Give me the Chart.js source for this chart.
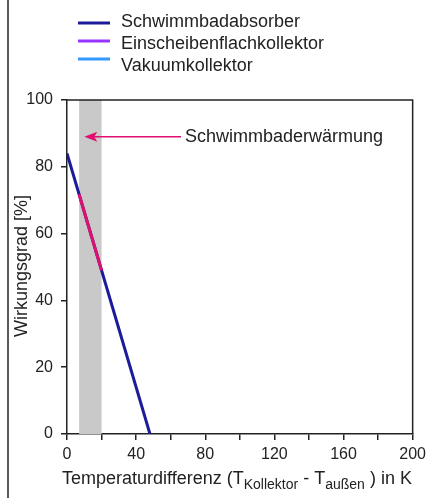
<!DOCTYPE html>
<html>
<head>
<meta charset="utf-8">
<script src="https://cdn.jsdelivr.net/npm/chart.js@4"></script>
<style>
  html, body { margin: 0; padding: 0; background: #fff; }
  #wrap { width: 431px; height: 498px; position: relative; }
</style>
</head>
<body>
<div id="wrap"><canvas id="chart" width="431" height="498"></canvas></div>
<script>
// Data
const seriesNames = ["Schwimmbadabsorber", "Einscheibenflachkollektor", "Vakuumkollektor"];
const seriesColors = ["#1c1c9a", "#9933ff", "#3399ff"];
const absorberX = [0, 48];
const absorberY = [84, 0];
const highlightX = [7, 20];
const highlightY = [71.75, 49];
const flatX = [];
const flatY = [];
const vacuumX = [];
const vacuumY = [];
const bandRange = [7, 20];          // Schwimmbaderwärmung range (K)
const arrowFrom = [66, 89];         // arrow tail (x, y)
const arrowTo = [10, 89];           // arrow head (x, y)
const xTicks = [0, 20, 40, 60, 80, 100, 120, 140, 160, 180, 200];
const yTicks = [0, 20, 40, 60, 80, 100];

const FONT = "'Liberation Sans', Arial, sans-serif";
const pink = "#e0106e";

function toPoints(xs, ys) {
  return xs.map((x, i) => ({ x: x, y: ys[i] }));
}

// Grey band, frame, arrow, legend and axis titles
const decorations = {
  id: "decorations",
  beforeDatasetsDraw(chart) {
    const { ctx, chartArea, scales } = chart;
    const x0 = scales.x.getPixelForValue(bandRange[0]);
    const x1 = scales.x.getPixelForValue(bandRange[1]);
    ctx.save();
    ctx.fillStyle = "#c9c9c9";
    ctx.fillRect(x0, chartArea.top, x1 - x0, chartArea.bottom - chartArea.top);
    ctx.restore();
  },
  afterDraw(chart) {
    const { ctx, chartArea, scales } = chart;
    ctx.save();

    // top and right frame
    ctx.strokeStyle = "#222";
    ctx.lineWidth = 1.5;
    ctx.beginPath();
    ctx.moveTo(chartArea.left, chartArea.top);
    ctx.lineTo(chartArea.right, chartArea.top);
    ctx.lineTo(chartArea.right, chartArea.bottom);
    ctx.stroke();

    // outer left border line
    ctx.beginPath();
    ctx.moveTo(8, 0);
    ctx.lineTo(8, 498);
    ctx.stroke();

    // arrow
    const ax0 = scales.x.getPixelForValue(arrowFrom[0]);
    const ay = scales.y.getPixelForValue(arrowFrom[1]);
    const ax1 = scales.x.getPixelForValue(arrowTo[0]);
    ctx.strokeStyle = pink;
    ctx.fillStyle = pink;
    ctx.lineWidth = 1.5;
    ctx.beginPath();
    ctx.moveTo(ax0, ay);
    ctx.lineTo(ax1 + 6, ay);
    ctx.stroke();
    ctx.beginPath();
    ctx.moveTo(ax1, ay);
    ctx.lineTo(ax1 + 13, ay - 5);
    ctx.lineTo(ax1 + 10, ay);
    ctx.lineTo(ax1 + 13, ay + 5);
    ctx.closePath();
    ctx.fill();

    ctx.fillStyle = "#222";
    ctx.font = "18px " + FONT;
    ctx.textBaseline = "middle";
    ctx.textAlign = "left";
    ctx.fillText("Schwimmbaderwärmung", ax0 + 4, ay);

    // legend
    seriesNames.forEach((name, i) => {
      const ly = 23 + i * 18;
      ctx.strokeStyle = seriesColors[i];
      ctx.lineWidth = 3;
      ctx.beginPath();
      ctx.moveTo(78, ly);
      ctx.lineTo(110, ly);
      ctx.stroke();
      ctx.fillStyle = "#222";
      ctx.fillText(name, 121, 22 + i * 22);
    });

    // y axis title
    ctx.save();
    ctx.translate(22, 266);
    ctx.rotate(-Math.PI / 2);
    ctx.textAlign = "center";
    ctx.fillText("Wirkungsgrad [%]", 0, 0);
    ctx.restore();

    // x axis title with subscripts
    const parts = [
      ["Temperaturdifferenz (T", false],
      ["Kollektor", true],
      [" - T", false],
      ["außen", true],
      [" ) in K", false]
    ];
    let tx = 62;
    const ty = 479;
    parts.forEach(([text, sub]) => {
      ctx.font = (sub ? "14px " : "18px ") + FONT;
      ctx.fillText(text, tx, sub ? ty + 6 : ty);
      tx += ctx.measureText(text).width;
    });

    ctx.restore();
  }
};

new Chart(document.getElementById("chart"), {
  type: "scatter",
  data: {
    datasets: [
      {
        label: seriesNames[0],
        data: toPoints(absorberX, absorberY),
        borderColor: seriesColors[0],
        showLine: true,
        borderWidth: 3,
        pointRadius: 0,
        order: 1
      },
      {
        label: "Schwimmbaderwärmung",
        data: toPoints(highlightX, highlightY),
        borderColor: pink,
        showLine: true,
        borderWidth: 3,
        pointRadius: 0,
        order: -1
      },
      {
        label: seriesNames[1],
        data: toPoints(flatX, flatY),
        borderColor: seriesColors[1],
        showLine: true,
        pointRadius: 0,
        order: 2
      },
      {
        label: seriesNames[2],
        data: toPoints(vacuumX, vacuumY),
        borderColor: seriesColors[2],
        showLine: true,
        pointRadius: 0,
        order: 3
      }
    ]
  },
  options: {
    responsive: false,
    animation: false,
    layout: { padding: { left: 0, top: 100, right: 14, bottom: 0 } },
    plugins: {
      legend: { display: false },
      tooltip: { enabled: false }
    },
    scales: {
      x: {
        type: "linear",
        min: 0,
        max: 200,
        afterBuildTicks: (scale) => {
          scale.ticks = xTicks.map((v) => ({ value: v }));
        },
        afterFit: (scale) => { scale.height = 64; },
        grid: { drawOnChartArea: false, drawTicks: true, tickLength: 6, color: "#222", lineWidth: 1.5 },
        border: { display: true, color: "#222", width: 1.5 },
        ticks: {
          autoSkip: false,
          maxRotation: 0,
          padding: 5,
          color: "#222",
          font: { family: FONT, size: 16 },
          callback: (v) => (v % 40 === 0 ? v : "")
        }
      },
      y: {
        min: 0,
        max: 100,
        afterBuildTicks: (scale) => {
          scale.ticks = yTicks.map((v) => ({ value: v }));
        },
        afterFit: (scale) => { scale.width = 67; },
        grid: { drawOnChartArea: false, drawTicks: true, tickLength: 6, color: "#222", lineWidth: 1.5 },
        border: { display: true, color: "#222", width: 1.5 },
        ticks: {
          padding: 8,
          color: "#222",
          font: { family: FONT, size: 16 }
        }
      }
    }
  },
  plugins: [decorations]
});
</script>
</body>
</html>
